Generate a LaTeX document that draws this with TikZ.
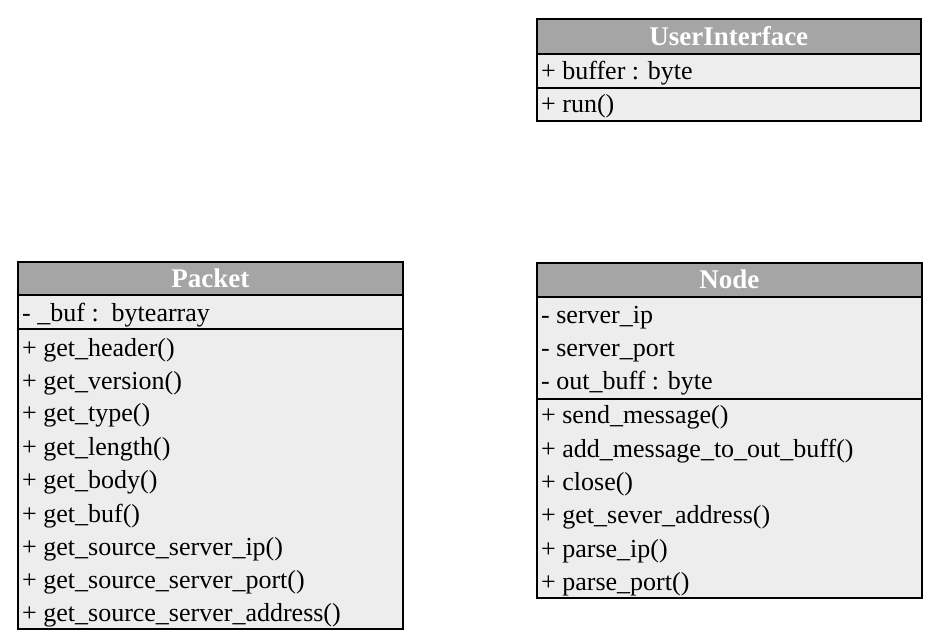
\documentclass[tikz,border=0pt]{standalone}
\usepackage{fontspec}
\setmainfont{Liberation Serif}
\definecolor{hdrgray}{HTML}{A5A5A5}
\definecolor{bodygray}{HTML}{EDEDED}
\begin{document}
\begin{tikzpicture}[x=1pt,y=-1pt,
  box/.style={draw=black,line width=1.5pt,anchor=north west,inner sep=0pt},
  hdr/.style={box,fill=hdrgray,text=white,font=\fontsize{27}{29}\selectfont\bfseries},
  sect/.style={box,fill=bodygray},
  row/.style={anchor=base west,inner sep=0pt,font=\fontsize{26}{28}\selectfont}]
\useasboundingbox (0,0) rectangle (933,637);
% UserInterface
\node[sect,minimum width=384pt,minimum height=34pt] (uiA) at (536,53) {};
\node[sect,minimum width=384pt,minimum height=33pt] (uiM) at (536,87) {};
\node[hdr,minimum width=384pt,minimum height=35pt] (uiH) at (536,18) {UserInterface};
\node[row] (ui1) at (541,79) {+ buffer : byte};
\node[row] (ui2) at (541,112) {+ run()};
% Packet
\node[sect,minimum width=385pt,minimum height=34pt] (pA) at (17,294) {};
\node[sect,minimum width=385pt,minimum height=300pt] (pM) at (17,328) {};
\node[hdr,minimum width=385pt,minimum height=33pt] (pH) at (17,261) {Packet};
\node[row] (pa1) at (22,321) {- \_buf :\ \ bytearray};
\node[row] (pm1) at (22,356) {+ get\_header()};
\node[row] (pm2) at (22,389) {+ get\_version()};
\node[row] (pm3) at (22,421) {+ get\_type()};
\node[row] (pm4) at (22,455) {+ get\_length()};
\node[row] (pm5) at (22,488) {+ get\_body()};
\node[row] (pm6) at (22,522) {+ get\_buf()};
\node[row] (pm7) at (22,555) {+ get\_source\_server\_ip()};
\node[row] (pm8) at (22,588) {+ get\_source\_server\_port()};
\node[row] (pm9) at (22,621) {+ get\_source\_server\_address()};
% Node
\node[sect,minimum width=385pt,minimum height=102pt] (nA) at (536,296) {};
\node[sect,minimum width=385pt,minimum height=199pt] (nM) at (536,398) {};
\node[hdr,minimum width=385pt,minimum height=34pt] (nH) at (536,262) {Node};
\node[row] (na1) at (541,323) {- server\_ip};
\node[row] (na2) at (541,356) {- server\_port};
\node[row] (na3) at (541,389) {- out\_buff : byte};
\node[row] (nm1) at (541,423) {+ send\_message()};
\node[row] (nm2) at (541,457) {+ add\_message\_to\_out\_buff()};
\node[row] (nm3) at (541,490) {+ close()};
\node[row] (nm4) at (541,523) {+ get\_sever\_address()};
\node[row] (nm5) at (541,557) {+ parse\_ip()};
\node[row] (nm6) at (541,590) {+ parse\_port()};
\end{tikzpicture}
\end{document}
